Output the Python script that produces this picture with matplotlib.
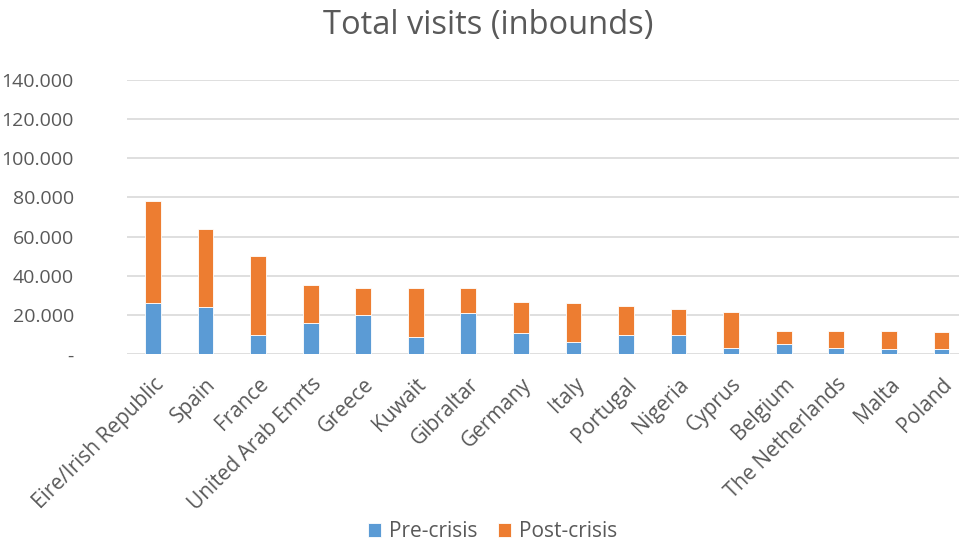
import numpy as np
import matplotlib.pyplot as plt
from matplotlib.ticker import FuncFormatter

# Data
countries = ['Eire/Irish Republic', 'Spain', 'France', 'United Arab Emrts', 'Greece',
             'Kuwait', 'Gibraltar', 'Germany', 'Italy', 'Portugal', 'Nigeria',
             'Cyprus', 'Belgium', 'The Netherlands', 'Malta', 'Poland']
total = [78300, 63700, 50100, 35500, 33600, 33600, 33600, 26800, 26200, 24800,
         23000, 21400, 12000, 12000, 12000, 11400]
pre_crisis = [26000, 24100, 10000, 16000, 20000, 8700, 20900, 10700, 6100, 10000,
              10000, 3400, 5400, 3400, 2600, 2600]
post_crisis = [t - p for t, p in zip(total, pre_crisis)]

yticks = [0, 20000, 40000, 60000, 80000, 100000, 120000, 140000]

blue = '#5B9BD5'
orange = '#ED7D31'
grey_text = '#595959'

plt.rcParams['font.family'] = ['Open Sans', 'DejaVu Sans']

fig = plt.figure(figsize=(9.59, 5.41), dpi=100)
# axes runs past the right edge, like the cropped original
ax = fig.add_axes([126.7 / 959, 1 - 354.3 / 541, 841 / 959, (354.3 - 79.55) / 541])

x = np.arange(len(countries))
ax.bar(x, pre_crisis, width=0.3, color=blue, edgecolor='white', linewidth=0.6,
       label='Pre-crisis', zorder=3)
ax.bar(x, post_crisis, width=0.3, bottom=pre_crisis, color=orange, edgecolor='white',
       linewidth=0.6, label='Post-crisis', zorder=3)

ax.set_xlim(-0.5, len(countries) - 0.5)
ax.set_ylim(0, 140000)
ax.set_yticks(yticks)


def fmt(v, pos):
    if v == 0:
        return '-'
    return f'{int(v):,}'.replace(',', '.')


ax.yaxis.set_major_formatter(FuncFormatter(fmt))
ax.grid(axis='y', color='#D9D9D9', linewidth=1.2, zorder=0)
for s in ax.spines.values():
    s.set_visible(False)
ax.tick_params(axis='y', length=0, pad=38, labelsize=14, labelcolor=grey_text)
for lab in ax.get_yticklabels():
    lab.set_horizontalalignment('right')
ax.tick_params(axis='x', length=0, pad=14, labelsize=15, labelcolor=grey_text)
ax.set_xticks(x)
ax.set_xticklabels(countries, rotation=45, ha='right', rotation_mode='anchor')

fig.text(0.509, 0.952, 'Total visits (inbounds)', ha='center', va='center',
         fontsize=23.5, color=grey_text)

fig.legend(loc='center', bbox_to_anchor=(0.514, 0.017), ncol=2, frameon=False,
           fontsize=15, handlelength=0.6, handleheight=0.6, handletextpad=0.4,
           columnspacing=1.0, labelcolor=grey_text)

fig.savefig('out.png', dpi=100)
